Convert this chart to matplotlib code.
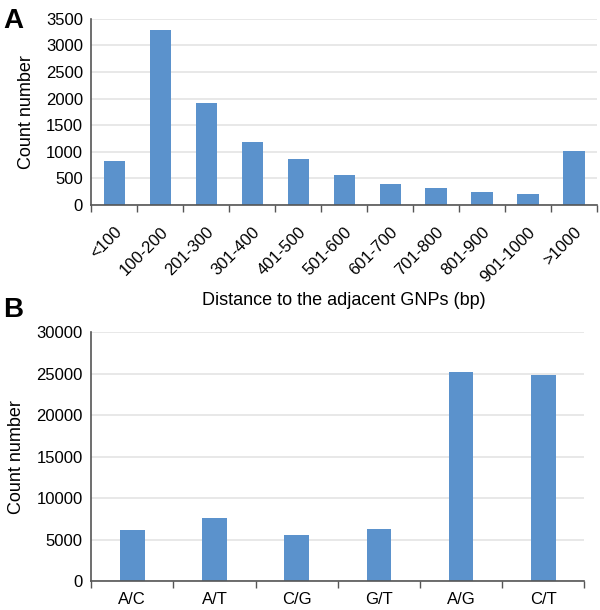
import numpy as np
import matplotlib
matplotlib.use("Agg")
import matplotlib.pyplot as plt

plt.rcParams['font.family'] = ['Liberation Sans', 'DejaVu Sans']

# Panel A: distance to adjacent GNPs
dist_labels = ["<100", "100-200", "201-300", "301-400", "401-500", "501-600",
               "601-700", "701-800", "801-900", "901-1000", ">1000"]
dist_counts = [820, 3290, 1910, 1180, 870, 560, 400, 320, 250, 200, 1010]

# Panel B: SNP types
snp_labels = ["A/C", "A/T", "C/G", "G/T", "A/G", "C/T"]
snp_counts = [6100, 7650, 5500, 6300, 25250, 24850]

bar_color = "#5b92cc"
axis_color = "#555555"
grid_color = "#e6e6e6"


def style(ax, n, ymax, ystep):
    ax.set_xlim(-0.5, n - 0.5)
    ax.set_ylim(0, ymax)
    ax.set_yticks(np.arange(0, ymax + 1, ystep))
    ax.yaxis.grid(True, color=grid_color, linewidth=1.3)
    ax.set_axisbelow(True)
    for s in ["top", "right"]:
        ax.spines[s].set_visible(False)
    for s in ["left", "bottom"]:
        ax.spines[s].set_color(axis_color)
        ax.spines[s].set_linewidth(1.2)
    ax.tick_params(axis="y", length=0, labelsize=12, pad=6)
    ax.tick_params(axis="x", which="major", length=0, labelsize=12)
    ax.set_xticks(np.arange(-0.5, n, 1), minor=True)
    ax.tick_params(axis="x", which="minor", length=5, width=1, color=axis_color)


fig = plt.figure(figsize=(6, 6.1), dpi=100)

axA = fig.add_axes([0.152, 0.664, 0.843, 0.305])
x = np.arange(len(dist_labels))
axA.bar(x, dist_counts, width=0.46, color=bar_color)
style(axA, len(dist_labels), 3500, 500)
axA.set_xticks(x)
axA.set_xticklabels(dist_labels, rotation=45, ha="right", rotation_mode="anchor")
axA.tick_params(axis="x", which="major", pad=14)
axA.set_ylabel("Count number", fontsize=13, labelpad=8)
axA.set_xlabel("Distance to the adjacent GNPs (bp)", fontsize=13, labelpad=5)
fig.text(0.005, 0.965, "A", fontsize=20, fontweight="bold", va="center")

axB = fig.add_axes([0.152, 0.0475, 0.822, 0.408])
x2 = np.arange(len(snp_labels))
axB.bar(x2, snp_counts, width=0.3, color=bar_color)
style(axB, len(snp_labels), 30000, 5000)
axB.set_xticks(x2)
axB.set_xticklabels(snp_labels)
axB.tick_params(axis="x", which="major", pad=8)
axB.set_ylabel("Count number", fontsize=13, labelpad=8)
fig.text(0.005, 0.492, "B", fontsize=20, fontweight="bold", va="center")

fig.savefig("out.png", dpi=100)
